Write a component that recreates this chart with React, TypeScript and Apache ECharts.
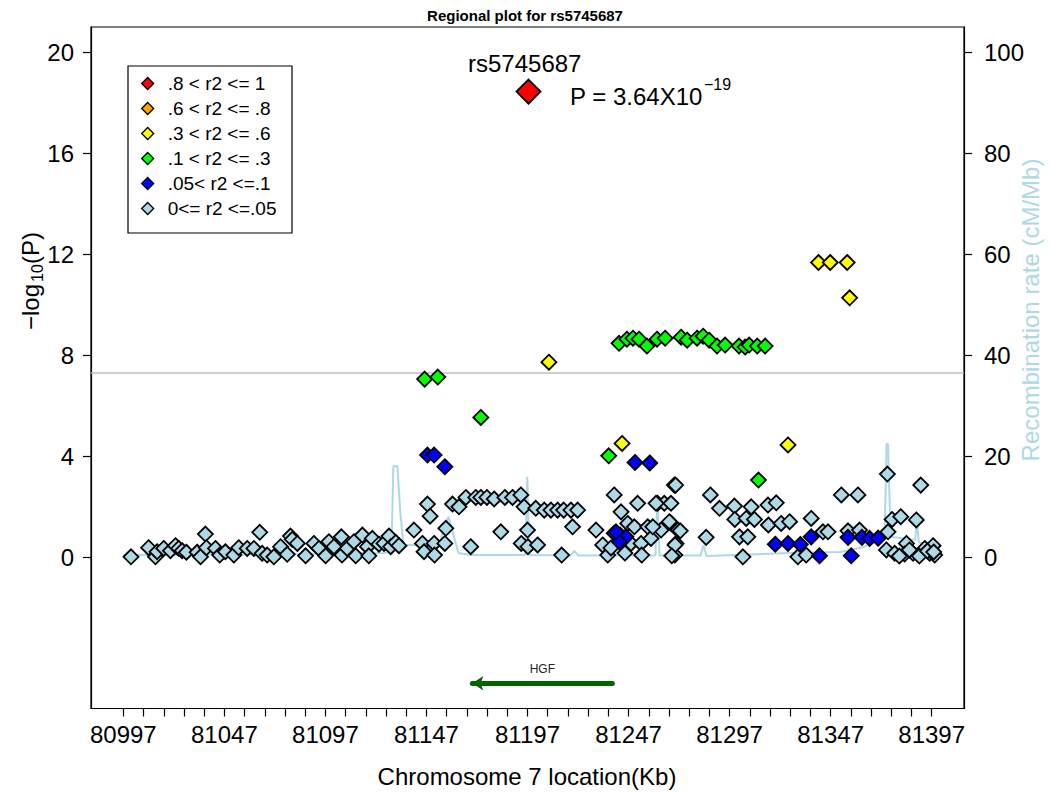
import React, { useEffect, useRef } from "react";
import * as echarts from "echarts";

const FONT = '"Liberation Sans", Arial, Helvetica, sans-serif';

// Axis ranges / ticks
const xMin = 80981;
const xMax = 81413;
const xLabelValues = [80997, 81047, 81097, 81147, 81197, 81247, 81297, 81347, 81397];
const xTickValues = Array.from({ length: 41 }, (_, i) => 80997 + 10 * i);
const yLeftTicks = [0, 4, 8, 12, 16, 20];
const yRightTicks = [0, 20, 40, 60, 80, 100];
const sigLevel = 7.3; // -log10(5e-8)

const legendNames = [
  ".8 < r2 <= 1",
  ".6 < r2 <= .8",
  ".3 < r2 <= .6",
  ".1 < r2 <= .3",
  ".05< r2 <=.1",
  "0<= r2 <=.05",
];
const legendColors = ["#FF0000", "#FFA500", "#FFFF00", "#00FF00", "#0000FF", "#ADD8E6"];

// Data: [position (Kb), -log10(P)]
const indexSnp: [number, number][] = [[81197.5, 18.44]];
const orangePts: [number, number][] = [];
const yellowPts: [number, number][] = [
  [81207.6, 7.72], [81243.8, 4.5], [81325.9, 4.44], [81341.0, 11.67],
  [81346.8, 11.67], [81355.2, 11.67], [81356.4, 10.27],
];
const greenPts: [number, number][] = [
  [81146.1, 7.05], [81152.6, 7.13], [81173.9, 5.53], [81237.2, 4.01], [81311.3, 3.05],
  [81242.3, 8.47], [81246.2, 8.63], [81249.2, 8.67], [81252.2, 8.63], [81256.1, 8.36],
  [81261.1, 8.63], [81265.1, 8.67], [81273.0, 8.71], [81276.0, 8.59], [81280.9, 8.67],
  [81283.9, 8.75], [81286.9, 8.59], [81290.8, 8.36], [81294.8, 8.4], [81301.7, 8.36],
  [81304.7, 8.32], [81306.7, 8.4], [81310.7, 8.36], [81314.6, 8.36],
];
const bluePts: [number, number][] = [
  [81147.5, 4.04], [81150.8, 4.04], [81156.1, 3.58], [81250.2, 3.75], [81257.5, 3.73],
  [81239.9, 0.94], [81242.9, 0.87], [81245.7, 0.8], [81242.4, 0.61], [81240.8, 1.0],
  [81319.6, 0.51], [81325.9, 0.54], [81332.0, 0.5], [81337.4, 0.8], [81341.5, 0.05],
  [81355.6, 0.78], [81357.2, 0.05], [81362.5, 0.78], [81366.3, 0.74], [81370.5, 0.75],
];
const lightBluePts: [number, number][] = [
  [81000.8, 0.01], [81009.5, 0.37], [81012.9, 0.01], [81013.7, 0.21], [81017.0, 0.34],
  [81020.3, 0.25], [81022.8, 0.45], [81024.4, 0.34], [81026.1, 0.25], [81028.2, 0.19],
  [81033.5, 0.19], [81035.2, 0.01], [81037.6, 0.91], [81038.1, 0.37], [81042.6, 0.34],
  [81044.7, 0.08], [81047.5, 0.21], [81051.7, 0.08], [81054.1, 0.37], [81058.3, 0.34],
  [81061.6, 0.34], [81064.5, 0.98], [81065.7, 0.15], [81068.2, 0.08], [81071.5, 0.01],
  [81074.8, 0.41], [81078.1, 0.11], [81079.7, 0.83], [81080.6, 0.7], [81083.1, 0.54],
  [81087.2, 0.05], [81091.3, 0.54], [81093.8, 0.34], [81097.1, 0.05], [81098.7, 0.61],
  [81101.2, 0.41], [81104.9, 0.8], [81105.2, 0.08], [81107.8, 0.34], [81111.1, 0.61],
  [81112.0, 0.05], [81115.3, 0.87], [81117.8, 0.41], [81118.5, 0.05], [81120.2, 0.74],
  [81123.5, 0.51], [81126.0, 0.54], [81128.5, 0.83], [81129.3, 0.41], [81131.8, 0.58],
  [81133.4, 0.45], [81140.8, 1.07], [81147.5, 2.1], [81148.8, 1.62], [81145.0, 0.54],
  [81145.8, 0.21], [81150.8, 0.54], [81151.0, 0.08], [81156.6, 1.14], [81156.1, 0.54],
  [81159.9, 2.1], [81163.1, 1.99], [81166.5, 2.36], [81168.9, 0.41], [81171.4, 2.36],
  [81173.9, 2.36], [81176.9, 2.36], [81180.5, 2.3], [81183.8, 1.0], [81185.8, 2.36],
  [81189.6, 2.36], [81193.7, 2.46], [81195.3, 1.99], [81197.0, 1.07], [81193.9, 0.54],
  [81197.2, 0.41], [81201.1, 1.93], [81202.0, 0.48], [81205.3, 1.86], [81208.6, 1.86],
  [81211.9, 1.86], [81214.9, 1.86], [81218.5, 1.86], [81221.8, 1.86], [81219.3, 1.2],
  [81213.9, 0.08], [81230.9, 1.07], [81234.2, 0.48], [81236.7, 0.08], [81239.9, 2.46],
  [81243.3, 1.79], [81246.6, 1.33], [81249.9, 1.2], [81248.2, 0.54], [81251.5, 2.13],
  [81253.2, 0.54], [81256.5, 1.2], [81258.1, 0.74], [81261.4, 2.13], [81264.7, 2.13],
  [81268.0, 2.13], [81268.2, 1.33], [81269.7, 2.85], [81270.5, 0.54], [81269.9, 0.08],
  [81271.4, 1.07], [81238.3, 0.36], [81245.2, 0.16], [81253.5, 0.08], [81263.1, 1.07],
  [81260.6, 2.13], [81270.3, 2.85], [81259.0, 1.2], [81267.2, 1.4], [81272.6, 1.04],
  [81270.0, 0.48], [81268.4, 0.05], [81285.4, 0.78], [81287.5, 2.46], [81292.0, 1.93],
  [81299.4, 2.02], [81299.6, 1.49], [81301.9, 0.8], [81303.6, 0.01], [81305.2, 1.53],
  [81306.0, 0.8], [81307.7, 1.99], [81309.3, 1.49], [81316.0, 2.06], [81320.1, 2.15],
  [81316.2, 1.27], [81322.5, 1.33], [81326.7, 1.4], [81330.8, 0.01], [81334.9, 0.08],
  [81337.4, 1.53], [81343.2, 1.0], [81345.7, 1.0], [81352.3, 2.46], [81360.5, 2.46],
  [81355.6, 1.04], [81361.3, 1.07], [81374.6, 0.28], [81375.1, 3.29], [81375.4, 1.0],
  [81377.4, 1.49], [81381.7, 1.6], [81384.5, 0.54], [81387.8, 0.15], [81389.4, 1.47],
  [81391.6, 2.85], [81393.6, 0.34], [81396.0, 0.15], [81397.7, 0.45], [81398.5, 0.08],
  [81383.6, 0.12], [81378.7, 0.15], [81381.0, 0.04], [81386.0, 0.28], [81390.9, 0.04],
  [81394.9, 0.24], [81398.0, 0.2],
];

// Recombination rate: [position (Kb), cM/Mb]
const recombPts: [number, number][] = [
  [80997, 0.4], [81035.2, 0.5], [81084.7, 0.6], [81126.7, 0.8], [81129.7, 1.5],
  [81130.6, 18.0], [81132.6, 18.0], [81134.1, 8.7], [81135.6, 2.4], [81153.0, 2.4],
  [81157.9, 8.0], [81162.8, 0.8], [81168.7, 0.4], [81195.9, 0.4], [81196.9, 15.9],
  [81197.9, 0.4], [81218.2, 0.3], [81220.2, 1.2], [81222.2, 0.3], [81260.3, 0.3],
  [81261.3, 12.0], [81262.3, 0.3], [81282.6, 0.3], [81284.1, 2.4], [81285.6, 0.2],
  [81327.2, 0.8], [81351.9, 1.0], [81363.3, 2.0], [81371.7, 3.4], [81373.7, 3.5],
  [81374.7, 22.4], [81375.4, 22.4], [81376.7, 4.0], [81388.9, 3.4], [81389.6, 7.9],
  [81390.6, 3.0], [81397, 1.4],
];

// Gene track
const geneName = "HGF";
const geneStart = 81169.7;
const geneEnd = 81239.0;
const geneY = -5;

const snpName = "rs5745687";

export default function App() {
  const ref = useRef<HTMLDivElement>(null);

  useEffect(() => {
    if (!ref.current) return;
    const chart = echarts.init(ref.current, undefined, { renderer: "svg" });

    const scatter = (name: string, data: [number, number][], color: string, size: number, z: number, extra: any = {}) => ({
      type: "scatter",
      name,
      data,
      symbol: "diamond",
      symbolSize: size,
      itemStyle: { color, borderColor: "#000", borderWidth: 1.8, opacity: 1 },
      z,
      silent: true,
      ...extra,
    });

    chart.setOption({
      animation: false,
      backgroundColor: "#fff",
      textStyle: { fontFamily: FONT },
      title: {
        text: `Regional plot for ${snpName}`,
        left: 520,
        textAlign: "center",
        top: 3,
        textStyle: { fontSize: 15, fontWeight: "bold", color: "#000", fontFamily: FONT },
      },
      grid: {
        left: 91,
        right: 86,
        top: 27,
        bottom: 83.5,
        show: true,
        borderColor: "#000",
        borderWidth: 1.2,
        backgroundColor: "transparent",
      },
      legend: {
        data: legendNames,
        orient: "vertical",
        left: 141,
        top: 74,
        padding: 0,
        itemWidth: 12,
        itemHeight: 12,
        itemGap: 6,
        icon: "diamond",
        selectedMode: false,
        itemStyle: { borderColor: "#000", borderWidth: 1.3 },
        textStyle: { fontSize: 19, lineHeight: 19, color: "#000", fontFamily: FONT, padding: [0, 0, 0, 9] },
      },
      xAxis: {
        type: "value",
        min: xMin,
        max: xMax,
        axisLine: { show: true, onZero: false, lineStyle: { color: "#000", width: 1.2 } },
        axisTick: { show: true, length: 8, customValues: xTickValues, lineStyle: { color: "#000", width: 1.2 } },
        axisLabel: {
          customValues: xLabelValues,
          fontSize: 24,
          color: "#000",
          margin: 14,
          fontFamily: FONT,
          formatter: (v: number) => String(v),
        },
        splitLine: { show: false },
      },
      yAxis: [
        {
          type: "value",
          min: -6,
          max: 21,
          position: "left",
          axisLine: { show: true, onZero: false, lineStyle: { color: "#000", width: 1.2 } },
          axisTick: { show: true, length: 8, customValues: yLeftTicks, lineStyle: { color: "#000", width: 1.2 } },
          axisLabel: { customValues: yLeftTicks, fontSize: 24, color: "#000", margin: 17, fontFamily: FONT },
          splitLine: { show: false },
        },
        {
          type: "value",
          min: -30,
          max: 105,
          position: "right",
          axisLine: { show: true, onZero: false, lineStyle: { color: "#000", width: 1.2 } },
          axisTick: { show: true, length: 8, customValues: yRightTicks, lineStyle: { color: "#000", width: 1.2 } },
          axisLabel: { customValues: yRightTicks, fontSize: 24, color: "#000", margin: 20, fontFamily: FONT },
          splitLine: { show: false },
        },
      ],
      series: [
        {
          type: "line",
          name: "Recombination rate",
          yAxisIndex: 1,
          data: recombPts,
          symbol: "none",
          showSymbol: false,
          lineStyle: { color: "#ADD8E6", width: 2 },
          itemStyle: { color: "#ADD8E6" },
          z: 1,
          silent: true,
        },
        {
          type: "lines",
          coordinateSystem: "cartesian2d",
          name: geneName,
          data: [{ coords: [[geneEnd, geneY], [geneStart, geneY]] }],
          symbol: ["none", "arrow"],
          symbolSize: 11,
          lineStyle: { color: "#006400", width: 5, opacity: 1, cap: "round" },
          label: { show: true, position: "middle", formatter: geneName, fontSize: 12, color: "#222", distance: 8, fontFamily: FONT },
          z: 2,
          silent: true,
        },
        scatter(legendNames[5], lightBluePts, legendColors[5], 15, 3, {
          markLine: {
            silent: true,
            symbol: "none",
            label: { show: false },
            lineStyle: { color: "#BEBEBE", width: 1.5, type: "solid" },
            data: [{ yAxis: sigLevel }],
          },
        }),
        scatter(legendNames[4], bluePts, legendColors[4], 15, 4),
        scatter(legendNames[3], greenPts, legendColors[3], 15, 5),
        scatter(legendNames[2], yellowPts, legendColors[2], 15, 6),
        scatter(legendNames[1], orangePts, legendColors[1], 15, 7),
        scatter(legendNames[0], indexSnp, legendColors[0], 24, 8),
      ],
      graphic: [
        {
          type: "rect",
          shape: { x: 128, y: 66, width: 164, height: 167 },
          style: { fill: "#fff", stroke: "#000", lineWidth: 1.2 },
          z: 0,
          silent: true,
        },
        {
          type: "text",
          x: 468,
          y: 63,
          style: { text: snpName, fontSize: 24, fontFamily: FONT, fill: "#000", align: "left", verticalAlign: "middle" },
          silent: true,
        },
        {
          type: "text",
          x: 570,
          y: 96,
          style: { text: "P = 3.64X10", fontSize: 24, fontFamily: FONT, fill: "#000", align: "left", verticalAlign: "middle" },
          silent: true,
        },
        {
          type: "text",
          x: 704,
          y: 84,
          style: { text: "\u221219", fontSize: 16, fontFamily: FONT, fill: "#000", align: "left", verticalAlign: "middle" },
          silent: true,
        },
        {
          type: "group",
          x: 30,
          y: 280,
          rotation: Math.PI / 2,
          silent: true,
          children: [
            { type: "text", x: -50, y: 0, style: { text: "\u2212log", fontSize: 24, fontFamily: FONT, fill: "#000", align: "left", verticalAlign: "middle" } },
            { type: "text", x: -2, y: 7, style: { text: "10", fontSize: 16, fontFamily: FONT, fill: "#000", align: "left", verticalAlign: "middle" } },
            { type: "text", x: 16, y: 0, style: { text: "(P)", fontSize: 24, fontFamily: FONT, fill: "#000", align: "left", verticalAlign: "middle" } },
          ],
        },
        {
          type: "text",
          x: 1030,
          y: 310,
          rotation: Math.PI / 2,
          style: { text: "Recombination rate (cM/Mb)", fontSize: 24, fontFamily: FONT, fill: "#ADD8E6", align: "center", verticalAlign: "middle" },
          silent: true,
        },
        {
          type: "text",
          x: 527,
          y: 776,
          style: { text: "Chromosome 7 location(Kb)", fontSize: 24, fontFamily: FONT, fill: "#000", align: "center", verticalAlign: "middle" },
          silent: true,
        },
      ],
    });

    return () => chart.dispose();
  }, []);

  return <div ref={ref} style={{ position: "absolute", left: 0, top: 0, width: 1050, height: 792 }} />;
}
